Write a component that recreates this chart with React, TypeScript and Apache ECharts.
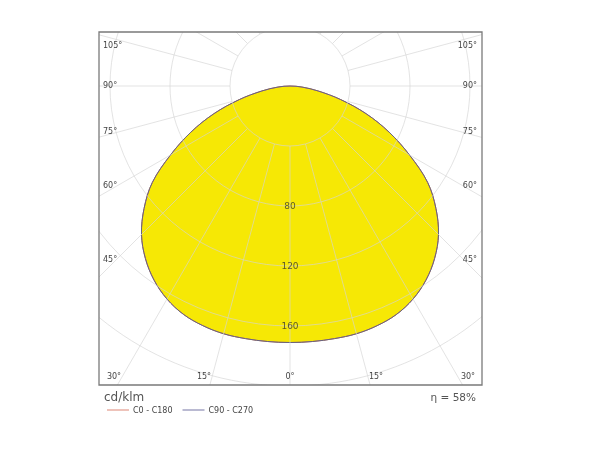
import React, { useEffect, useRef } from 'react';
import * as echarts from 'echarts';

// Photometric data (cd/klm) by gamma angle (degrees from nadir)
const gamma = [0, 5, 10, 15, 20, 25, 30, 35, 40, 45, 50, 55, 60, 65, 70, 75, 80, 85, 90];
const c0c180 = [171, 171, 171, 171, 170, 168, 164, 158, 150, 140, 127, 112, 92, 73, 54, 35, 19, 8, 0];
const c90c270 = [171, 171, 171, 171, 170, 168, 164, 158, 150, 140, 127, 112, 92, 73, 54, 35, 19, 8, 0];
const seriesNames = ['C0 - C180', 'C90 - C270'];

const ringLabels = [80, 120, 160];
const radialTicks = [0, 15, 30, 45, 60, 75, 90, 105, 120, 135, 150, 165, 180, 195, 210, 225, 240, 255, 270, 285, 300, 315, 330, 345];
const sideAngleLabels = ['105°', '90°', '75°', '60°', '45°'];
const bottomAngleLabels = ['30°', '15°', '0°', '15°', '30°'];
const unitLabel = 'cd/klm';
const efficiencyLabel = 'η = 58%';

// layout
const BOX = { x: 99, y: 32, w: 383, h: 353 };
const CENTER = [290, 86];
const OUTER_R = 300;
const sideLabelY = [45, 85, 131, 185, 259];
const bottomLabelX = [114, 204, 290, 376, 468];
const GRID = 'rgba(212,212,212,0.65)';
const FONT = '"DejaVu Sans", Verdana, sans-serif';

// both half-planes of a C-plane pair: right side (360-γ), then left side (γ)
function toPolar(vals: number[]) {
  const pts: number[][] = [];
  for (let i = gamma.length - 1; i >= 0; i--) pts.push([vals[i], 360 - gamma[i]]);
  for (let i = 1; i < gamma.length; i++) pts.push([vals[i], gamma[i]]);
  return pts;
}

function curveSeries(name: string, vals: number[], fill: string, stroke: string, z: number) {
  const pts = toPolar(vals);
  return {
    type: 'custom', name, coordinateSystem: 'polar', silent: true, z,
    itemStyle: { color: stroke },
    data: pts,
    renderItem: (params: any, api: any) => {
      if (params.dataIndex !== 0) return null;
      const coords = pts.map((p) => api.coord(p)).slice(0, -1);
      return {
        type: 'polygon',
        shape: { points: coords, smooth: 0.35 },
        style: { fill, stroke, lineWidth: 1 },
      };
    },
  };
}

export default function App() {
  const ref = useRef<HTMLDivElement>(null);
  useEffect(() => {
    if (!ref.current) return;
    const chart = echarts.init(ref.current, null, { renderer: 'svg' });
    const texts: any[] = [];
    const tStyle = (text: string, size: number, align: string, fill = '#444') => ({
      text, fill, font: `${size}px ${FONT}`, align, textAlign: align, verticalAlign: 'middle', textVerticalAlign: 'middle',
    });
    sideAngleLabels.forEach((t, i) => {
      texts.push({ type: 'text', z: 52, silent: true, x: BOX.x + 4, y: sideLabelY[i], style: tStyle(t, 8, 'left') });
      texts.push({ type: 'text', z: 52, silent: true, x: BOX.x + BOX.w - 5, y: sideLabelY[i], style: tStyle(t, 8, 'right') });
    });
    bottomAngleLabels.forEach((t, i) => {
      texts.push({ type: 'text', z: 52, silent: true, x: bottomLabelX[i], y: 376, style: tStyle(t, 8, 'center') });
    });
    texts.push({ type: 'text', z: 52, silent: true, x: 104, y: 397, style: tStyle(unitLabel, 12, 'left', '#555') });
    texts.push({ type: 'text', z: 52, silent: true, x: 476, y: 397, style: tStyle(efficiencyLabel, 10.5, 'right', '#555') });

    const option: any = {
      animation: false,
      polar: { center: CENTER, radius: OUTER_R },
      angleAxis: {
        type: 'value', min: 0, max: 360, startAngle: 270, clockwise: true,
        axisLine: { show: false }, axisTick: { show: false }, axisLabel: { show: false }, splitLine: { show: false },
      },
      radiusAxis: {
        type: 'value', min: 0, max: 200, interval: 40, z: 5,
        axisLine: { show: false }, axisTick: { show: false }, axisLabel: { show: false },
        splitLine: { show: true, lineStyle: { color: GRID, width: 1 } },
      },
      legend: {
        data: [
          { name: seriesNames[0], itemStyle: { color: '#e39a8c' } },
          { name: seriesNames[1], itemStyle: { color: '#8c8cb4' } },
        ],
        icon: 'rect', left: 102, top: 401, z: 60, itemWidth: 22, itemHeight: 1.2, itemGap: 10,
        textStyle: { fontSize: 8, color: '#444', fontFamily: FONT, padding: [0, 0, 0, -1] },
      },
      series: [
        curveSeries(seriesNames[0], c0c180, '#f6e805', '#c9705f', 2),
        curveSeries(seriesNames[1], c90c270, 'none', '#66647e', 3),
        {
          type: 'custom', coordinateSystem: 'polar', silent: true, z: 4,
          data: radialTicks.map((a) => [0, a]),
          renderItem: (params: any, api: any) => {
            const a = api.value(1);
            const p1 = api.coord([40, a]);
            const p2 = api.coord([290, a]);
            return { type: 'line', shape: { x1: p1[0], y1: p1[1], x2: p2[0], y2: p2[1] }, style: { stroke: GRID, lineWidth: 1 } };
          },
        },
        {
          type: 'scatter', coordinateSystem: 'polar', silent: true, z: 6,
          data: ringLabels.map((r) => [r, 0]), symbolSize: 1, itemStyle: { color: 'rgba(0,0,0,0)' },
          label: { show: true, position: 'inside', formatter: (p: any) => String(p.value[0]), fontSize: 9, color: '#333', fontFamily: FONT },
        },
      ],
      graphic: [
        { type: 'rect', z: 50, silent: true, shape: { x: 0, y: 0, width: BOX.x, height: 450 }, style: { fill: '#fff' } },
        { type: 'rect', z: 50, silent: true, shape: { x: BOX.x + BOX.w, y: 0, width: 600, height: 450 }, style: { fill: '#fff' } },
        { type: 'rect', z: 50, silent: true, shape: { x: 0, y: 0, width: 600, height: BOX.y }, style: { fill: '#fff' } },
        { type: 'rect', z: 50, silent: true, shape: { x: 0, y: BOX.y + BOX.h, width: 600, height: 100 }, style: { fill: '#fff' } },
        { type: 'rect', z: 51, silent: true, shape: { x: BOX.x, y: BOX.y, width: BOX.w, height: BOX.h }, style: { fill: 'none', stroke: '#7a7a7a', lineWidth: 1.3 } },
        ...texts,
      ],
    };
    chart.setOption(option);
    return () => chart.dispose();
  }, []);
  return <div ref={ref} style={{ position: 'fixed', left: 0, top: 0, width: 600, height: 450 }} />;
}
